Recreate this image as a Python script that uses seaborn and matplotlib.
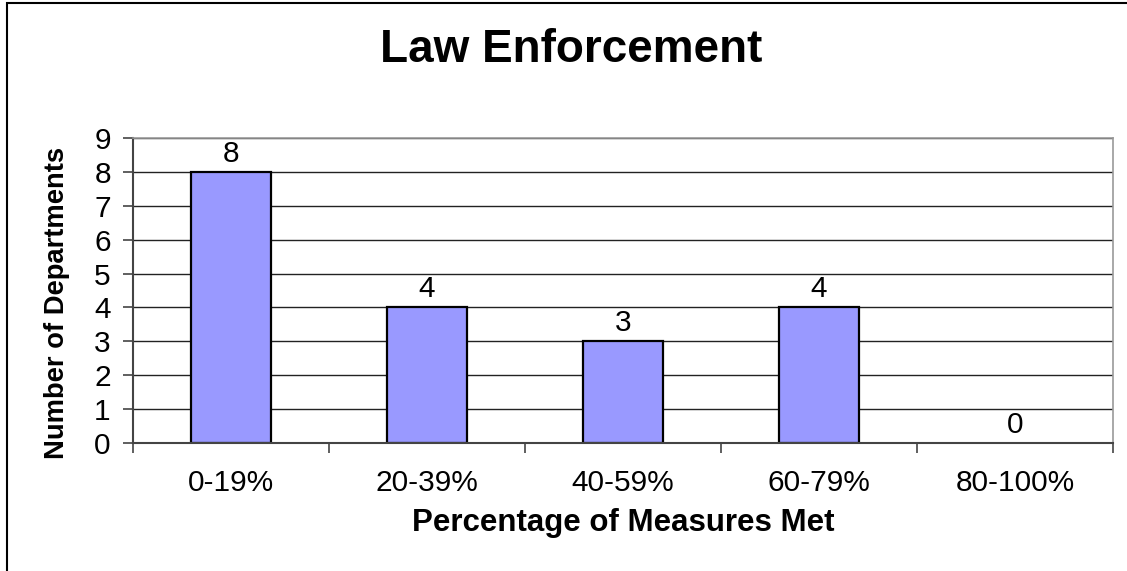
import numpy as np
import matplotlib
matplotlib.use('Agg')
import matplotlib.pyplot as plt
import seaborn as sns
from matplotlib.patches import Rectangle

# chart data
categories = ['0-19%', '20-39%', '40-59%', '60-79%', '80-100%']
departments = [8, 4, 3, 4, 0]
y_ticks = list(range(0, 10))

TITLE = 'Law Enforcement'
X_LABEL = 'Percentage of Measures Met'
Y_LABEL = 'Number of Departments'

sns.set_theme(style='white')
plt.rcParams['font.family'] = ['Liberation Sans', 'DejaVu Sans']
plt.rcParams['text.color'] = 'black'

fig = plt.figure(figsize=(11.27, 5.71), dpi=100)
ax = fig.add_axes([133 / 1127, 1 - 443 / 571, 980 / 1127, 305 / 571])

sns.barplot(x=categories, y=departments, color='#9999FF', edgecolor='black',
            linewidth=1.6, width=0.41, saturation=1, ax=ax)

# zero-height bars leave no outline in the original
for patch, v in zip(ax.patches, departments):
    if v == 0:
        patch.set_linewidth(0)

ax.set_ylim(0, 9)
ax.set_xlim(-0.5, len(categories) - 0.5)
ax.set_yticks(y_ticks)
ax.yaxis.grid(True, color='#222222', linewidth=1.0)
ax.set_axisbelow(True)

# category ticks between the bars
ax.set_xticks(np.arange(len(categories)))
ax.set_xticklabels(categories)
ax.set_xticks(np.arange(len(categories) + 1) - 0.5, minor=True)
ax.tick_params(axis='x', which='major', length=0, pad=19, labelsize=21.5, labelcolor='black')
ax.tick_params(axis='x', which='minor', length=7, width=1.2, color='#444444', direction='out', bottom=True)
ax.tick_params(axis='y', length=7, width=1.2, color='#444444', direction='out', left=True,
               pad=9, labelsize=21.5, labelcolor='black')

for side in ['left', 'bottom']:
    ax.spines[side].set_color('#444444')
    ax.spines[side].set_linewidth(1.5)
for side in ['top', 'right']:
    ax.spines[side].set_color('#999999')
    ax.spines[side].set_linewidth(1.2)

ax.bar_label(ax.containers[0], labels=[str(v) for v in departments], padding=3, fontsize=21.5, color='black')

ax.set_xlabel('')
ax.set_ylabel('')
fig.text(623 / 1127, 1 - 523 / 571, X_LABEL, ha='center', va='center', fontsize=22.5, fontweight='bold')
fig.text(57 / 1127, 1 - 303 / 571, Y_LABEL, ha='center', va='center', rotation=90,
         fontsize=19.7, fontweight='bold')
fig.text(571 / 1127, 1 - 50 / 571, TITLE, ha='center', va='center', fontsize=33, fontweight='bold')

# chart area border (only top/left visible in the original)
fig.patches.append(Rectangle((7 / 1127, -0.1), 1.2, 1 - 3 / 571 + 0.1, transform=fig.transFigure,
                             fill=False, edgecolor='black', linewidth=1.5))

fig.savefig('out.png', dpi=100)
